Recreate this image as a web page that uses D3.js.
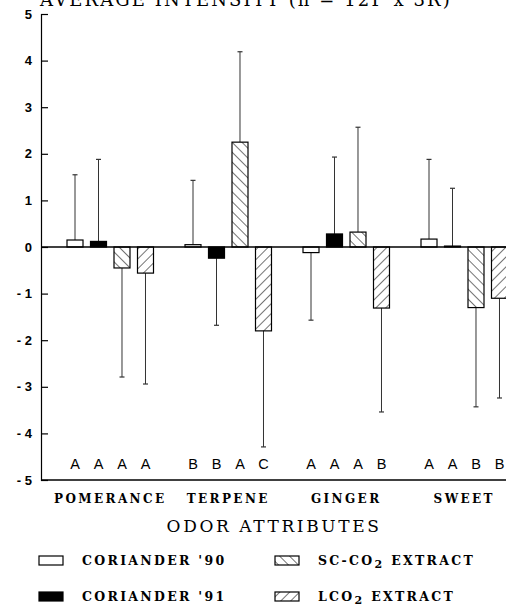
<!DOCTYPE html>
<html>
<head>
<meta charset="utf-8">
<script src="https://cdn.jsdelivr.net/npm/d3@7"></script>
<style>
  html, body { margin: 0; padding: 0; background: #fff; }
  svg { display: block; }
</style>
</head>
<body>
<div id="chart"></div>
<script>
// ---- data ----
const categories = ["POMERANCE", "TERPENE", "GINGER", "SWEET"];
const seriesNames = ["CORIANDER '90", "CORIANDER '91", "SC-CO2 EXTRACT", "LCO2 EXTRACT"];
const coriander90 = [0.15, 0.05, -0.12, 0.17];
const coriander91 = [0.12, -0.24, 0.28, 0.02];
const scco2 = [-0.45, 2.25, 0.32, -1.30];
const lco2 = [-0.56, -1.80, -1.31, -1.10];
const err90 = [1.40, 1.38, 1.45, 1.71];
const err91 = [1.76, 1.44, 1.65, 1.24];
const errSc = [2.34, 1.94, 2.25, 2.13];
const errL = [2.38, 2.49, 2.23, 2.14];
const sigLetters = [["A","A","A","A"],["B","B","A","C"],["A","A","A","B"],["A","A","B","B"]];
const yTicks = [-5,-4,-3,-2,-1,0,1,2,3,4,5];
const titleText = "AVERAGE INTENSITY (n = 12P x 3R)";
const xTitle = "ODOR ATTRIBUTES";

const values = [coriander90, coriander91, scco2, lco2];
const errors = [err90, err91, errSc, errL];

const W = 506, H = 613;
const svg = d3.select("#chart").append("svg").attr("width", W).attr("height", H);

const defs = svg.append("defs");
function hatch(id, dir) {
  const p = defs.append("pattern").attr("id", id).attr("patternUnits", "userSpaceOnUse")
    .attr("width", 7).attr("height", 7)
    .attr("patternTransform", `rotate(${dir})`);
  p.append("rect").attr("width", 7).attr("height", 7).attr("fill", "#fff");
  p.append("line").attr("x1", 0).attr("y1", 0).attr("x2", 0).attr("y2", 7)
    .attr("stroke", "#000").attr("stroke-width", 1.1);
}
hatch("hatchBack", -45);
hatch("hatchFwd", 45);
const fills = ["#fff", "#000", "url(#hatchBack)", "url(#hatchFwd)"];

const axisX = 41;
const y = d3.scaleLinear().domain([-5, 5]).range([480, 14]);
const x0 = d3.scaleBand().domain(categories).range([51.25, 523.25]).paddingInner(0.267).paddingOuter(0.1335);
const x1 = d3.scaleBand().domain(d3.range(4)).range([0, x0.bandwidth()]).paddingInner(0.319).paddingOuter(0);

// title (partly above the top edge, as in the reference)
svg.append("text").attr("x", 40).attr("y", 6)
  .attr("font-family", "DejaVu Serif").attr("font-size", 18).attr("letter-spacing", 2.1)
  .attr("fill", "#000").text(titleText);

// bars
const bars = [];
categories.forEach((c, ci) => {
  values.forEach((s, si) => {
    bars.push({ c, ci, si, v: s[ci], e: errors[si][ci] });
  });
});

const g = svg.append("g");
// error bars
g.selectAll("line.err").data(bars).join("line").attr("class", "err")
  .attr("x1", d => x0(d.c) + x1(d.si) + x1.bandwidth() / 2)
  .attr("x2", d => x0(d.c) + x1(d.si) + x1.bandwidth() / 2)
  .attr("y1", d => y(d.v))
  .attr("y2", d => y(d.v >= 0 ? d.v + d.e : d.v - d.e))
  .attr("stroke", "#333").attr("stroke-width", 1);
g.selectAll("line.cap").data(bars).join("line").attr("class", "cap")
  .attr("x1", d => x0(d.c) + x1(d.si) + x1.bandwidth() / 2 - 2.5)
  .attr("x2", d => x0(d.c) + x1(d.si) + x1.bandwidth() / 2 + 2.5)
  .attr("y1", d => y(d.v >= 0 ? d.v + d.e : d.v - d.e))
  .attr("y2", d => y(d.v >= 0 ? d.v + d.e : d.v - d.e))
  .attr("stroke", "#333").attr("stroke-width", 1.2);

g.selectAll("rect.bar").data(bars).join("rect").attr("class", "bar")
  .attr("x", d => x0(d.c) + x1(d.si))
  .attr("width", x1.bandwidth())
  .attr("y", d => y(Math.max(0, d.v)))
  .attr("height", d => Math.abs(y(d.v) - y(0)))
  .attr("fill", d => fills[d.si])
  .attr("stroke", "#000").attr("stroke-width", 1.2);

// zero line
svg.append("line").attr("x1", axisX).attr("x2", W).attr("y1", y(0)).attr("y2", y(0))
  .attr("stroke", "#000").attr("stroke-width", 1.5);
// bottom line
svg.append("line").attr("x1", axisX).attr("x2", W).attr("y1", y(-5)).attr("y2", y(-5))
  .attr("stroke", "#000").attr("stroke-width", 1.3);

// y axis
const yAxis = d3.axisRight(y).tickValues(yTicks).tickSize(7).tickFormat("");
const ya = svg.append("g").attr("transform", `translate(${axisX},0)`).call(yAxis);
ya.select(".domain").attr("stroke", "#000").attr("stroke-width", 1.2);
ya.selectAll(".tick line").attr("stroke", "#000").attr("stroke-width", 1.2);
svg.append("g").selectAll("text").data(yTicks).join("text")
  .attr("x", 32).attr("y", d => y(d) + 4.5)
  .attr("text-anchor", "end")
  .attr("font-family", "Liberation Sans, Arial").attr("font-size", 13).attr("font-weight", "bold")
  .text(d => d < 0 ? "- " + Math.abs(d) : d);

// significance letters
const letterData = [];
categories.forEach((c, ci) => sigLetters[ci].forEach((l, si) => letterData.push({ c, si, l })));
svg.append("g").selectAll("text").data(letterData).join("text")
  .attr("x", d => x0(d.c) + x1(d.si) + x1.bandwidth() / 2)
  .attr("y", 469)
  .attr("text-anchor", "middle")
  .attr("font-family", "Liberation Sans, Arial").attr("font-size", 14.5)
  .text(d => d.l);

// category labels
svg.append("g").selectAll("text").data(categories).join("text")
  .attr("x", d => x0(d) + x0.bandwidth() / 2)
  .attr("y", 503)
  .attr("text-anchor", "middle")
  .attr("font-family", "DejaVu Serif").attr("font-weight", "bold").attr("font-size", 12)
  .attr("letter-spacing", 2.4)
  .text(d => d);

// x title
svg.append("text").attr("x", 274).attr("y", 532).attr("text-anchor", "middle")
  .attr("font-family", "DejaVu Serif").attr("font-size", 17).attr("letter-spacing", 2.6)
  .text(xTitle);

// legend
const legPos = [[39, 556], [39, 592], [275, 556], [275, 592]];
const leg = svg.append("g");
seriesNames.forEach((name, i) => {
  const [lx, ly] = legPos[i];
  leg.append("rect").attr("x", lx).attr("y", ly).attr("width", 24).attr("height", 9)
    .attr("fill", fills[i]).attr("stroke", "#000").attr("stroke-width", 1.2);
  const t = leg.append("text").attr("x", lx + 43).attr("y", ly + 9)
    .attr("font-family", "DejaVu Serif").attr("font-weight", "bold").attr("font-size", 12.5)
    .attr("letter-spacing", 2.3);
  const m = name.match(/^(.*CO)2(.*)$/);
  if (m) {
    t.append("tspan").text(m[1]);
    t.append("tspan").attr("dy", 3).attr("font-size", 11).text("2");
    t.append("tspan").attr("dy", -3).text(m[2]);
  } else {
    t.text(name);
  }
});
</script>
</body>
</html>
